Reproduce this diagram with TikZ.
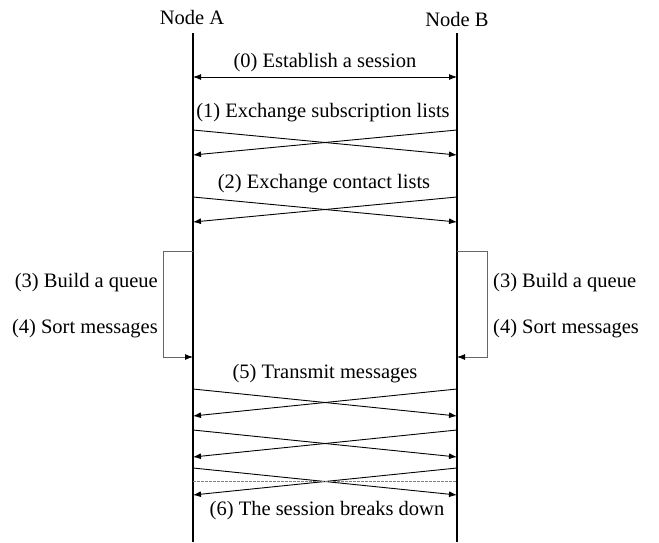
\documentclass[tikz,border=0pt]{standalone}
\usepackage{fontspec}
\setmainfont{Liberation Serif}
\usetikzlibrary{arrows.meta}
\begin{document}
\begin{tikzpicture}[x=1pt,y=-1pt,
  tip/.style={-{Latex[length=8pt,width=6pt]}},
  lifeline/.style={line width=2pt,black},
  msg/.style={line width=0.9pt,tip},
  twoway/.style={line width=0.9pt,{Latex[length=8pt,width=6pt]}-{Latex[length=8pt,width=6pt]}},
  loopline/.style={line width=0.9pt,draw=gray!80!black,-{Latex[length=8pt,width=6pt,fill=black,color=black]}},
  lbl/.style={font=\fontsize{20.5}{24}\selectfont,inner sep=0pt}]
\useasboundingbox (0,0) rectangle (659,542);

% lifelines and their heads
\node[lbl] (na) at (192,17) {Node A};
\node[lbl] (nb) at (457,19) {Node B};
\coordinate (atop) at (193,33);
\coordinate (abot) at (193,542);
\coordinate (btop) at (457,33);
\coordinate (bbot) at (457,542);
\draw[lifeline] (atop) -- (abot);
\draw[lifeline] (btop) -- (bbot);

% (0) session set-up
\node[lbl] (t0) at (325,63) {(0) Establish a session};
\coordinate (a0) at (193,77);
\coordinate (b0) at (457,77);
\draw[twoway] (a0) -- (b0);

% (1) subscription lists
\node[lbl] (t1) at (323,113) {(1) Exchange subscription lists};
\coordinate (a1s) at (193,130); \coordinate (b1e) at (457,155);
\coordinate (b1s) at (457,130); \coordinate (a1e) at (193,155);
\draw[msg] (a1s) -- (b1e);
\draw[msg] (b1s) -- (a1e);

% (2) contact lists
\node[lbl] (t2) at (324,184) {(2) Exchange contact lists};
\coordinate (a2s) at (193,197); \coordinate (b2e) at (457,222);
\coordinate (b2s) at (457,197); \coordinate (a2e) at (193,222);
\draw[msg] (a2s) -- (b2e);
\draw[msg] (b2s) -- (a2e);

% (3)-(4) local work on each side
\coordinate (la) at (193,251); \coordinate (lb) at (193,357);
\draw[loopline] (la) -- (163,251) -- (163,357) -- (lb);
\coordinate (ra) at (457,251); \coordinate (rb) at (457,357);
\draw[loopline] (ra) -- (487,251) -- (487,357) -- (rb);
\node[lbl,anchor=east] (l3) at (158,283) {(3) Build a queue};
\node[lbl,anchor=east] (l4) at (158,329) {(4) Sort messages};
\node[lbl,anchor=west] (r3) at (493,283) {(3) Build a queue};
\node[lbl,anchor=west] (r4) at (493,329) {(4) Sort messages};

% (5) message transfer
\node[lbl] (t5) at (325,374) {(5) Transmit messages};
\foreach \s/\e/\n in {389/416/p, 430/457/q, 468/495/r}{
  \coordinate (\n as) at (193,\s); \coordinate (\n be) at (457,\e);
  \coordinate (\n bs) at (457,\s); \coordinate (\n ae) at (193,\e);
  \draw[msg] (\n as) -- (\n be);
  \draw[msg] (\n bs) -- (\n ae);
}

% (6) break-down
\coordinate (da) at (193,481); \coordinate (db) at (457,481);
\draw[gray,line width=0.7pt,dash pattern=on 2.5pt off 1.5pt] (da) -- (db);
\node[lbl] (t6) at (327,511) {(6) The session breaks down};
\end{tikzpicture}
\end{document}
